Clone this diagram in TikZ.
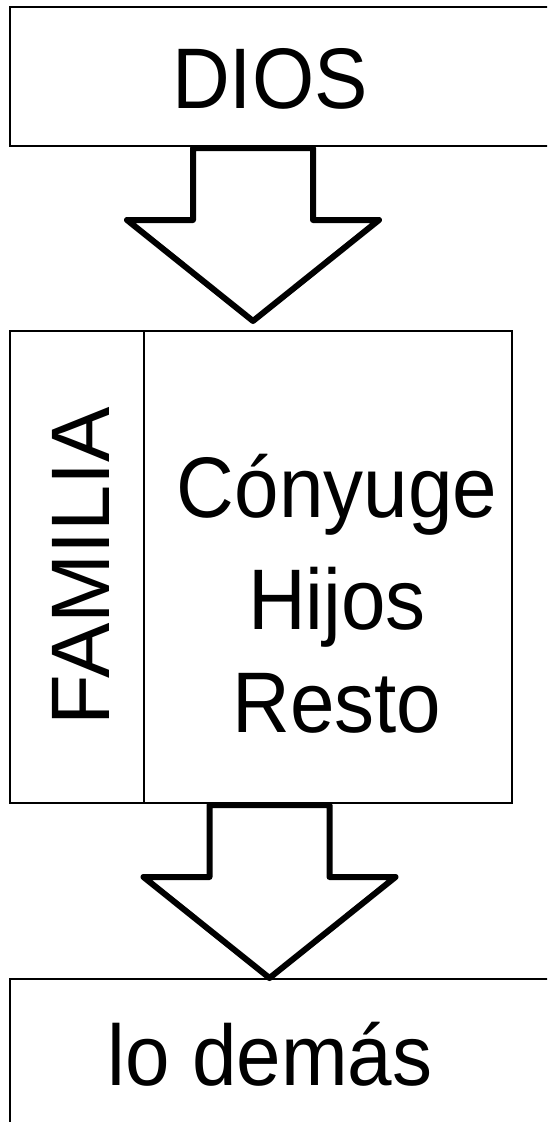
\documentclass[tikz,border=0pt]{standalone}
\usepackage{fontspec}
\setmainfont{Liberation Sans}
\usetikzlibrary{calc,positioning}
\newcommand{\narrow}[1]{\scalebox{0.93}[1]{#1}}

\begin{document}
\begin{tikzpicture}[x=1pt,y=-1pt]
    \tikzstyle{every node} = [inner sep=0pt, outer sep=0pt]
    \tikzstyle{box} = [draw, rectangle, line width=1.6pt, anchor=north west]
    \tikzstyle{bigtext} = [font=\fontsize{86pt}{100pt}\selectfont, anchor=base]
    \tikzstyle{fatarrow} = [line width=6pt, line join=round]
    \useasboundingbox (0,0) rectangle (547,1122);
    \clip (0,0) rectangle (547,1122);

    % place nodes
    \node[box, minimum width=600pt, minimum height=139pt] (dios) at (10,7) {};
    \node[bigtext] (diostxt) at (270,108) {\narrow{DIOS}};

    \node[box, minimum width=502pt, minimum height=472pt] (familia) at (10,331) {};
    \draw[line width=1.6pt] ([xshift=134pt]familia.north west) -- ([xshift=134pt]familia.south west);
    \node[bigtext, font=\fontsize{83pt}{100pt}\selectfont, rotate=90] (famtxt) at (109,566) {FAMILIA};
    \node[bigtext] (conyuge) at (337,517) {\narrow{Cónyuge}};
    \node[bigtext] (hijos) at (337,629) {\narrow{Hijos}};
    \node[bigtext] (resto) at (337,732) {\narrow{Resto}};

    \node[box, minimum width=600pt, minimum height=200pt] (demas) at (10,979) {};
    \node[bigtext] (demastxt) at (270,1085) {\narrow{lo demás}};

    % Connections
    \coordinate (a1) at ($(dios.south west)+(243,2)$);
    \draw[fatarrow] (a1) ++(-60,0) -- ++(0,72) -- ++(-66,0) -- ++(126,101)
        -- ++(126,-101) -- ++(-66,0) -- ++(0,-72) -- cycle;
    \coordinate (a2) at ($(familia.south west)+(259.5,2)$);
    \draw[fatarrow] (a2) ++(-60,0) -- ++(0,72) -- ++(-66,0) -- ++(126,101)
        -- ++(126,-101) -- ++(-66,0) -- ++(0,-72) -- cycle;

\end{tikzpicture}
\end{document}
